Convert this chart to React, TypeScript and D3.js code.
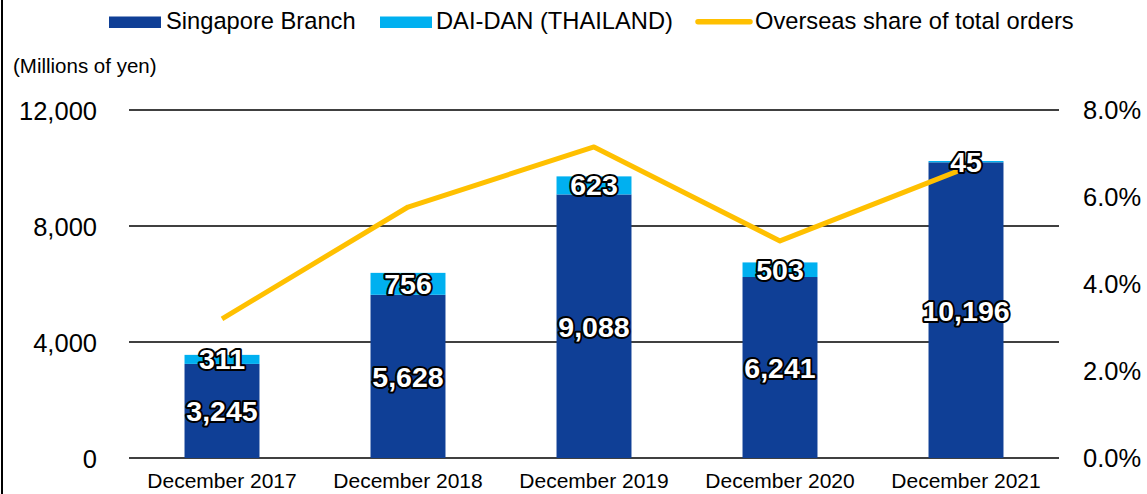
import React from "react";
import * as d3 from "d3";

const categories = ["December 2017", "December 2018", "December 2019", "December 2020", "December 2021"];
const singapore = [3245, 5628, 9088, 6241, 10196];
const thailand = [311, 756, 623, 503, 45];
const overseasShare = [3.2, 5.77, 7.15, 4.99, 6.67];
const leftTicks = [0, 4000, 8000, 12000];
const rightTicks = [0, 2, 4, 6, 8];

const W = 1147, H = 494;
const FONT = "Arial, 'Liberation Sans', sans-serif";

export default function App() {
  const x = d3.scaleBand<string>().domain(categories).range([129, 1059]).padding(0);
  const y = d3.scaleLinear().domain([0, 12000]).range([458, 110]);
  const y2 = d3.scaleLinear().domain([0, 8]).range([458, 110]);
  const bw = x.bandwidth() * 0.403;
  const cx = (c: string) => (x(c) as number) + x.bandwidth() / 2;
  const line = d3.line<number>().x((_, i) => cx(categories[i])).y(d => y2(d));
  const fmt = d3.format(",");
  const labelStyle = {
    fill: "#fff", stroke: "#000", strokeWidth: 4, paintOrder: "stroke" as const,
    fontWeight: 700, fontSize: 28.5, fontFamily: FONT, strokeLinejoin: "round" as const,
  };
  return (
    <svg width={W} height={H} style={{ position: "absolute", left: 0, top: 0 }}>
      <rect x={0} y={0} width={W} height={H} fill="#fff" />
      <line x1={2} x2={2} y1={0} y2={H} stroke="#000" strokeWidth={2} />
      {/* legend */}
      <rect x={109} y={16.5} width={52} height={11.5} fill="#0F3F96" />
      <text x={166} y={29} fontSize={23.7} fontFamily={FONT} fill="#000">Singapore Branch</text>
      <rect x={380} y={16.5} width={52} height={11.5} fill="#00B0F0" />
      <text x={436} y={29} fontSize={23.7} fontFamily={FONT} fill="#000">DAI-DAN (THAILAND)</text>
      <line x1={698} x2={750} y1={21.7} y2={21.7} stroke="#FFC000" strokeWidth={5.5} strokeLinecap="round" />
      <text x={755} y={29} fontSize={23.7} fontFamily={FONT} fill="#000">Overseas share of total orders</text>
      <text x={13} y={73} fontSize={20.5} fontFamily={FONT} fill="#000">(Millions of yen)</text>
      {/* gridlines */}
      {leftTicks.map(t => (
        <line key={t} x1={129} x2={1059} y1={y(t)} y2={y(t)} stroke="#000" strokeWidth={1.5} />
      ))}
      {leftTicks.map(t => (
        <text key={"l" + t} x={97} y={y(t) + 9.5} textAnchor="end" fontSize={25.5} fontFamily={FONT} fill="#000">{fmt(t)}</text>
      ))}
      {rightTicks.map(t => (
        <text key={"r" + t} x={1083} y={y2(t) + 9} fontSize={25.5} fontFamily={FONT} fill="#000">{t.toFixed(1) + "%"}</text>
      ))}
      {/* bars */}
      {categories.map((c, i) => {
        const x0 = cx(c) - bw / 2;
        const s = singapore[i], t = thailand[i];
        return (
          <g key={c}>
            <rect x={x0} y={y(s)} width={bw} height={y(0) - y(s)} fill="#0F3F96" />
            <rect x={x0} y={y(s + t)} width={bw} height={y(s) - y(s + t)} fill="#00B0F0" />
          </g>
        );
      })}
      {categories.map(c => (
        <text key={"c" + c} x={cx(c)} y={488} textAnchor="middle" fontSize={21} fontFamily={FONT} fill="#000">{c}</text>
      ))}
      <path d={line(overseasShare) || ""} fill="none" stroke="#FFC000" strokeWidth={5} strokeLinejoin="round" />
      {categories.map((c, i) => {
        const s = singapore[i], t = thailand[i];
        return (
          <g key={"lab" + c}>
            <text x={cx(c)} y={(y(0) + y(s)) / 2 + 10.5} textAnchor="middle" style={labelStyle}>{fmt(s)}</text>
            <text x={cx(c)} y={(y(s) + y(s + t)) / 2 + 10} textAnchor="middle" style={labelStyle}>{fmt(t)}</text>
          </g>
        );
      })}
    </svg>
  );
}
